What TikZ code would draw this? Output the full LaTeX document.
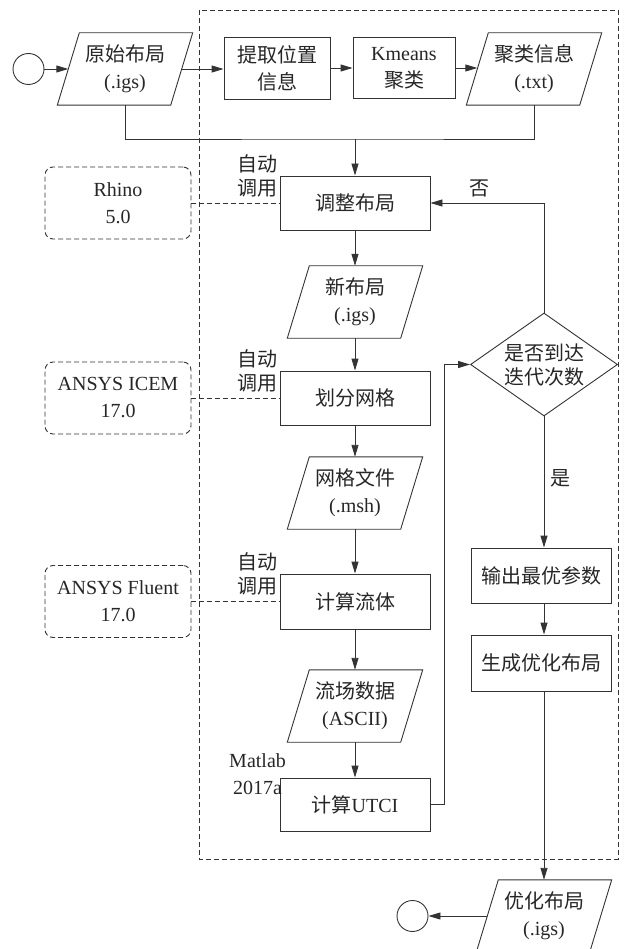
\documentclass[tikz,border=0pt]{standalone}
\usepackage{fontspec}
\setmainfont{Liberation Serif}
\newfontfamily\cjk{Noto Sans CJK SC}
\usetikzlibrary{arrows.meta,shapes.geometric}
\newcommand\zh[1]{{\cjk #1}}
\begin{document}
\begin{tikzpicture}[x=1pt,y=-1pt,
  every node/.style={font=\fontsize{20}{27}\selectfont, text=black!85, inner sep=0pt, align=center},
  ln/.style={line width=0.9pt, draw=black!80},
  arr/.style={ln, -{Triangle[length=12pt,width=7pt]}},
  dsh/.style={ln, dash pattern=on 5pt off 3pt},
  box/.style={ln, minimum width=150pt, minimum height=54pt},
  para/.style={minimum width=113pt, minimum height=72pt},
  side/.style={dsh, rounded corners=8pt, minimum width=146pt, minimum height=72pt},
  term/.style={circle, ln, minimum size=31pt},
  tight/.style={font=\fontsize{20}{24}\selectfont}
]
\useasboundingbox (0,0) rectangle (623,949);
\draw[dsh] (199,10) rectangle (618,859);

% top row
\node[term] (start) at (28.5,69) {};
\node[para] (orig) at (125,69) {\zh{原始布局}\\(.igs)};
\node[box, minimum width=106pt, minimum height=62pt] (extract) at (277,68) {\zh{提取位置}\\\zh{信息}};
\node[box, minimum width=102pt, minimum height=61pt] (kmeans) at (404,68) {Kmeans\\\zh{聚类}};
\node[para] (clus) at (534,69) {\zh{聚类信息}\\(.txt)};
\coordinate (m) at (355,139);

% main column
\node[box] (adjust) at (355,203) {\zh{调整布局}};
\node[para] (newl) at (355,302) {\zh{新布局}\\(.igs)};
\node[box] (mesh) at (355,398) {\zh{划分网格}};
\node[para] (meshf) at (355,493) {\zh{网格文件}\\(.msh)};
\node[box, minimum height=55pt] (flow) at (355,601.5) {\zh{计算流体}};
\node[para] (flowd) at (355,706) {\zh{流场数据}\\(ASCII)};
\node[box, minimum height=53pt] (utci) at (355,804.5) {\zh{计算}UTCI};

% side tools
\node[side] (rhino) at (118,203) {Rhino\\5.0};
\node[side] (icem) at (118,398) {ANSYS ICEM\\17.0};
\node[side] (fluent) at (118,601.5) {ANSYS Fluent\\17.0};

% labels
\node[tight, anchor=east] (l1) at ([xshift=-2pt]adjust.north west) {\zh{自动}\\\zh{调用}};
\node[tight, anchor=east] (l2) at ([xshift=-2pt]mesh.north west) {\zh{自动}\\\zh{调用}};
\node[tight, anchor=east] (l3) at ([xshift=-2pt]flow.north west) {\zh{自动}\\\zh{调用}};
\node (l4) at ([shift={(-22pt,3pt)}]utci.north west) {Matlab\\2017a};

% right column
\node[diamond, ln, tight, aspect=1.43, minimum width=147pt, minimum height=103pt] (dia) at (544,364.5) {\zh{是否到达}\\\zh{迭代次数}};
\node[box, minimum width=140pt, minimum height=55pt] (out) at (541,575.5) {\zh{输出最优参数}};
\node[box, minimum width=140pt, minimum height=56pt] (gen) at (541,663) {\zh{生成优化布局}};
\node[para] (final) at (544,916) {\zh{优化布局}\\(.igs)};
\node[term] (endc) at (412.5,916) {};
\node (no) at (479,188) {\zh{否}};
\node (yes) at (560,478) {\zh{是}};

% parallelogram outlines
\foreach \n in {orig,clus,newl,meshf,flowd,final}
  \draw[ln] ([xshift=11pt]\n.north west) -- ([xshift=11pt]\n.north east)
    -- ([xshift=-11pt]\n.south east) -- ([xshift=-11pt]\n.south west) -- cycle;

% connectors
\draw[arr] (start) -- (orig.west);
\draw[arr] (orig.east) -- (orig.east -| extract.west);
\draw[arr] (extract) -- (kmeans);
\draw[arr] (kmeans.east) -- (kmeans.east -| clus.west);
\draw[ln] (orig.south) |- (m) -| (clus.south);
\draw[arr] (m) -- (adjust);
\draw[arr] (adjust) -- (newl);
\draw[arr] (newl) -- (mesh);
\draw[arr] (mesh) -- (meshf);
\draw[arr] (meshf) -- (flow);
\draw[arr] (flow) -- (flowd);
\draw[arr] (flowd) -- (utci);
\draw[dsh] (rhino) -- (adjust);
\draw[dsh] (icem) -- (mesh);
\draw[dsh] (fluent) -- (flow);
\draw[arr] (utci.east) -- ++(14,0) |- (dia.west);
\draw[arr] (dia.north) |- (adjust.east);
\draw[arr] (dia.south) -- (dia.south |- out.north);
\draw[arr] (dia.south |- out.south) -- (dia.south |- gen.north);
\draw[arr] (dia.south |- gen.south) -- (final.north);
\draw[arr] (final.west) -- (endc);
\end{tikzpicture}
\end{document}
